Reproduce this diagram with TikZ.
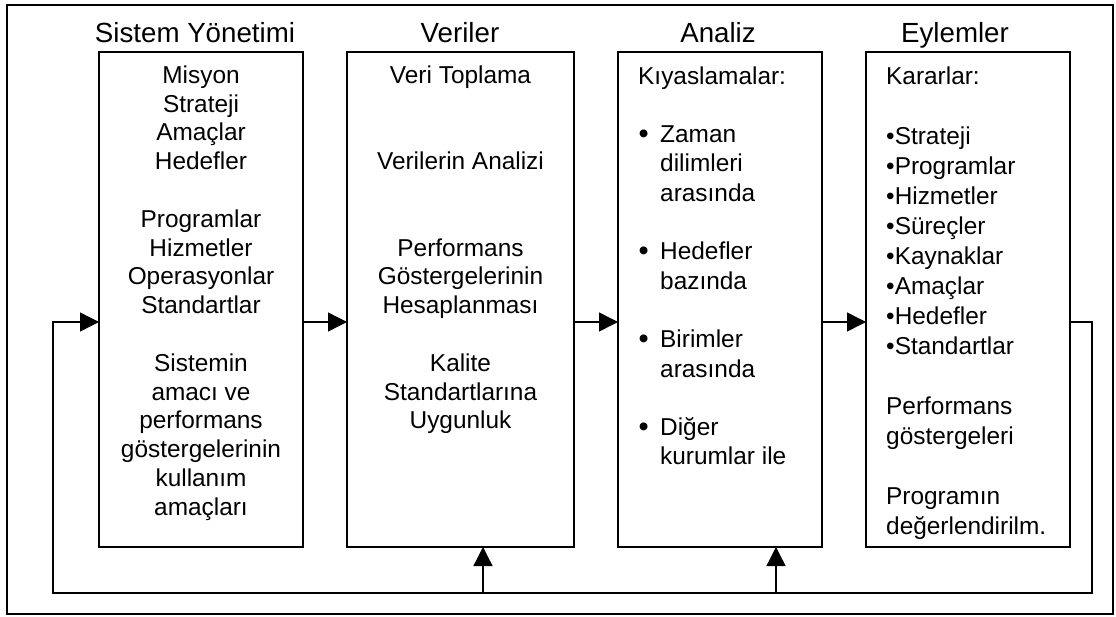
\documentclass[tikz,border=0pt]{standalone}
\usepackage{fontspec}
\setmainfont{Liberation Sans}
\usetikzlibrary{arrows.meta}
\newcommand{\bulx}{\makebox[22pt][l]{\hspace{0.5pt}\raisebox{-0.8pt}{\fontsize{29}{29}\selectfont •}}}
\newcommand{\indx}{\hspace*{22pt}}
\begin{document}
\begin{tikzpicture}[x=1pt,y=-1pt,
  frame/.style={draw, line width=1.4pt},
  stage/.style={draw, line width=1.4pt, minimum width=#1, minimum height=495pt, inner sep=0pt, outer sep=0pt, anchor=north west},
  title/.style={font=\fontsize{27.7}{33}\selectfont, anchor=base, inner sep=0pt},
  body/.style={font=\fontsize{24.4}{#1}\selectfont, inner sep=0pt},
  conn/.style={line width=1.4pt},
  arr/.style={conn, -{Triangle[length=19pt,width=19pt]}}
]
\useasboundingbox (0,0) rectangle (1116,616);
\draw[frame] (7,5) rectangle (1113,614);

% boxes
\node[stage=204pt] (b1) at (99,52) {};
\node[stage=227pt] (b2) at (347,52) {};
\node[stage=204pt] (b3) at (618,52) {};
\node[stage=204pt] (b4) at (866,52) {};

% titles
\node[title] (t1) at (195,42) {Sistem Yönetimi};
\node[title] (t2) at (460,42) {Veriler};
\node[title] (t3) at (718,42) {Analiz};
\node[title] (t4) at (955,42) {Eylemler};

% texts (anchored at the baseline of their last line)
\node[body=28.8pt, anchor=base, align=center] (x1) at (201,515.3)
 {Misyon\\Strateji\\Amaçlar\\Hedefler\\ \\Programlar\\Hizmetler\\Operasyonlar\\Standartlar\\ \\Sistemin\\amacı ve\\performans\\göstergelerinin\\kullanım\\amaçları};
\node[body=28.8pt, anchor=base, align=center] (x2) at (460.5,428.9)
 {Veri Toplama\\ \\ \\Verilerin Analizi\\ \\ \\Performans\\Göstergelerinin\\Hesaplanması\\ \\Kalite\\Standartlarına\\Uygunluk};
\node[body=29.3pt, anchor=base west, align=left] (x3) at (638,464.9)
 {Kıyaslamalar:\\ \\\bulx Zaman\\\indx dilimleri\\\indx arasında\\ \\\bulx Hedefler\\\indx bazında\\ \\\bulx Birimler\\\indx arasında\\ \\\bulx Diğer\\\indx kurumlar ile};
\node[body=30pt, anchor=base west, align=left] (x4) at (886,534)
 {Kararlar:\\ \\•Strateji\\•Programlar\\•Hizmetler\\•Süreçler\\•Kaynaklar\\•Amaçlar\\•Hedefler\\•Standartlar\\ \\Performans\\göstergeleri\\ \\Programın\\değerlendirilm.};

% connectors
\draw[arr] ([yshift=-22.5pt]b1.east) -- ([yshift=-22.5pt]b2.west);
\draw[arr] ([yshift=-22.5pt]b2.east) -- ([yshift=-22.5pt]b3.west);
\draw[arr] ([yshift=-22.5pt]b3.east) -- ([yshift=-22.5pt]b4.west);
\coordinate (fbR) at (1092,593);
\coordinate (fbL) at (53,593);
\coordinate (u2) at (483,593);
\coordinate (u3) at (776,593);
\draw[arr] ([yshift=-22.5pt]b4.east) -| (fbR) -- (fbL) |- ([yshift=-22.5pt]b1.west);
\draw[arr] (u2) -- ([xshift=22.5pt]b2.south);
\draw[arr] (u3) -- ([xshift=56pt]b3.south);
\end{tikzpicture}
\end{document}
